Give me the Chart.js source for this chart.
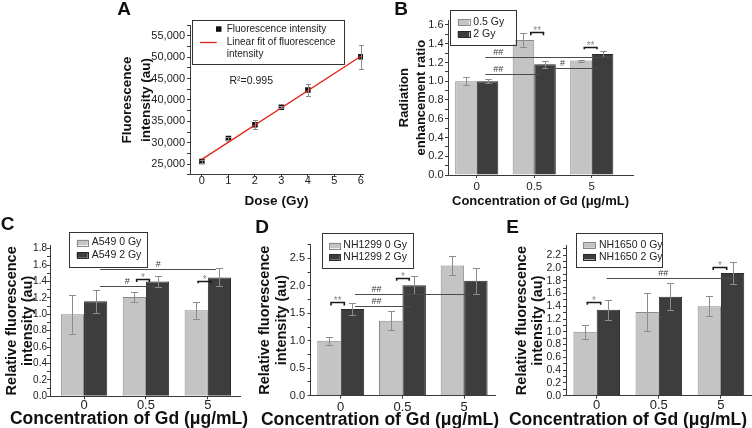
<!DOCTYPE html>
<html>
<head>
<meta charset="utf-8">
<title>Gd radiosensitization figure</title>
<script src="https://cdn.jsdelivr.net/npm/chart.js@4.4.1/dist/chart.umd.min.js"></script>
<style>
  html, body { margin:0; padding:0; background:#ffffff; }
  #fig { position:relative; width:752px; height:428px; overflow:hidden; background:#fff; }
  #fig canvas { position:absolute; left:0; top:0; }
</style>
</head>
<body>
<div id="fig">
  <canvas id="chartA" width="752" height="428"></canvas>
  <canvas id="chartB" width="752" height="428"></canvas>
  <canvas id="chartC" width="752" height="428"></canvas>
  <canvas id="chartD" width="752" height="428"></canvas>
  <canvas id="chartE" width="752" height="428"></canvas>
</div>
<script>
// ================= DATA =================
// Panel A
const doseGy = [0, 1, 2, 3, 4, 6];
const fluorescence = [25600, 31000, 34200, 38300, 42300, 50100];
const fluorescenceErr = [300, 400, 1000, 300, 1500, 2800];
const fitDose = [0, 6];
const fitFluorescence = [26100, 50200];
const seriesA = ['Fluorescence intensity', 'Linear fit of fluorescence intensity'];
const rSquaredText = 'R\u00B2=0.995';

// Shared category labels (Gd concentration, µg/mL)
const gdConc = ['0', '0.5', '5'];

// Panel B
const seriesB = ['0.5 Gy', '2 Gy'];
const rer05Gy = [1.00, 1.44, 1.22];
const rer05GyErr = [0.04, 0.075, 0.01];
const rer2Gy = [1.00, 1.18, 1.29];
const rer2GyErr = [0.02, 0.04, 0.03];

// Panel C
const seriesC = ['A549 0 Gy', 'A549 2 Gy'];
const a549_0Gy = [1.00, 1.21, 1.05];
const a549_0GyErr = [0.24, 0.06, 0.105];
const a549_2Gy = [1.16, 1.40, 1.45];
const a549_2GyErr = [0.14, 0.063, 0.11];

// Panel D
const seriesD = ['NH1299 0 Gy', 'NH1299 2 Gy'];
const nh1299_0Gy = [1.00, 1.365, 2.37];
const nh1299_0GyErr = [0.076, 0.176, 0.176];
const nh1299_2Gy = [1.58, 2.01, 2.09];
const nh1299_2GyErr = [0.106, 0.167, 0.243];

// Panel E
const seriesE = ['NH1650 0 Gy', 'NH1650 2 Gy'];
const nh1650_0Gy = [1.00, 1.31, 1.40];
const nh1650_0GyErr = [0.11, 0.30, 0.155];
const nh1650_2Gy = [1.345, 1.55, 1.92];
const nh1650_2GyErr = [0.16, 0.215, 0.17];

// Significance annotations (x in category units, y in data units)
const sigBracketsB = [
  {x1: 0.94, x2: 1.16, y: 1.53, y0: 1.49, text: '**'},
  {x1: 1.87, x2: 2.09, y: 1.37, y0: 1.34, text: '**'}
];
const sigLinesB = [
  {x1: 0.15, x2: 2.35, y: 1.262, tx: 0.375, text: '##'},
  {x1: 0.15, x2: 1.11, y: 1.077, tx: 0.375, text: '##'},
  {x1: 1.24, x2: 2.11, y: 1.138, tx: 1.49, text: '#'}
];
const sigBracketsC = [
  {x1: 0.85, x2: 1.055, y: 1.427, y0: 1.394, text: '*'},
  {x1: 1.843, x2: 2.053, y: 1.406, y0: 1.378, text: '*'}
];
const sigLinesC = [
  {x1: 0.26, x2: 2.13, y: 1.55, tx: 1.2, text: '#'},
  {x1: 0.26, x2: 1.15, y: 1.345, tx: 0.70, text: '#'}
];
const sigBracketsD = [
  {x1: -0.157, x2: 0.058, y: 1.70, y0: 1.64, text: '**'},
  {x1: 0.906, x2: 1.11, y: 2.14, y0: 2.09, text: '*'}
];
const sigLinesD = [
  {x1: 0.23, x2: 2.12, y: 1.86, tx: 0.58, text: '##'},
  {x1: 0.23, x2: 1.15, y: 1.63, tx: 0.58, text: '##'}
];
const sigBracketsE = [
  {x1: -0.151, x2: 0.064, y: 1.47, y0: 1.423, text: '*'},
  {x1: 1.876, x2: 2.092, y: 2.008, y0: 1.966, text: '*'}
];
const sigLinesE = [
  {x1: 0.16, x2: 2.2, y: 1.835, tx: 1.07, text: '##'}
];

const xTitleGd = 'Concentration of Gd (\u03BCg/mL)';
const yTitleRel = ['Relative fluorescence', 'intensity (au)'];

// ================= STYLE =================
const FONT = "'Liberation Sans', Arial, Helvetica, sans-serif";
const W = 752, H = 428;
const LIGHT = '#c4c4c4', LIGHT_BORDER = '#8a8a8a';
const DARK = '#3d3d3d', DARK_BORDER = '#2a2a2a';
const AXIS = '#3a3a3a', TICK = '#222222', TITLE = '#111111';
const ERR = '#8c8c8c';
Chart.defaults.font.family = FONT;

function majorCb(major, fmt) {
  return function (v) {
    const r = v / major;
    if (Math.abs(r - Math.round(r)) > 1e-6) return '';
    return fmt(v);
  };
}

function drawErrorBars(chart, capHalf) {
  const ctx = chart.ctx, ys = chart.scales.y;
  chart.data.datasets.forEach((ds, di) => {
    if (!ds.errorValues) return;
    const meta = chart.getDatasetMeta(di);
    ctx.save();
    ctx.strokeStyle = ERR;
    ctx.lineWidth = 1;
    meta.data.forEach((el, i) => {
      const pt = ds.data[i];
      const e = ds.errorValues[i];
      if (!e) return;
      const x = Math.round(el.x) + 0.5;
      const y1 = Math.round(ys.getPixelForValue(pt.y + e)) + 0.5;
      const y2 = Math.round(ys.getPixelForValue(pt.y - e)) + 0.5;
      ctx.beginPath();
      ctx.moveTo(x, y1); ctx.lineTo(x, y2);
      ctx.moveTo(x - capHalf, y1); ctx.lineTo(x + capHalf, y1);
      ctx.moveTo(x - capHalf, y2); ctx.lineTo(x + capHalf, y2);
      ctx.stroke();
    });
    ctx.restore();
  });
}

function drawLetter(ctx, L) {
  ctx.save();
  ctx.font = 'bold 19px ' + FONT;
  ctx.fillStyle = TITLE;
  ctx.textAlign = 'center';
  ctx.textBaseline = 'middle';
  ctx.fillText(L.text, L.x, L.y);
  ctx.restore();
}

function drawLegendBox(ctx, L) {
  ctx.save();
  ctx.fillStyle = '#ffffff';
  ctx.fillRect(L.x, L.y, L.w, L.h);
  ctx.strokeStyle = '#333333';
  ctx.lineWidth = 1;
  ctx.strokeRect(Math.round(L.x) + 0.5, Math.round(L.y) + 0.5, Math.round(L.w), Math.round(L.h));
  ctx.restore();
}

function drawSig(chart, P) {
  const ctx = chart.ctx, xs = chart.scales.x, ys = chart.scales.y;
  ctx.save();
  ctx.textAlign = 'center';
  ctx.textBaseline = 'alphabetic';
  (P.sigLines || []).forEach(l => {
    const x1 = xs.getPixelForValue(l.x1), x2 = xs.getPixelForValue(l.x2);
    const y = Math.round(ys.getPixelForValue(l.y)) + 0.5;
    ctx.strokeStyle = '#4a4a4a';
    ctx.lineWidth = 1;
    ctx.beginPath(); ctx.moveTo(x1, y); ctx.lineTo(x2, y); ctx.stroke();
    ctx.fillStyle = '#3a3a3a';
    ctx.font = P.hashSize + 'px ' + FONT;
    ctx.fillText(l.text, xs.getPixelForValue(l.tx), y - 2.5);
  });
  (P.brackets || []).forEach(b => {
    const x1 = xs.getPixelForValue(b.x1), x2 = xs.getPixelForValue(b.x2);
    const yt = Math.round(ys.getPixelForValue(b.y)) + 0.5;
    const yb = ys.getPixelForValue(b.y0);
    ctx.strokeStyle = '#1a1a1a';
    ctx.lineWidth = 1.6;
    ctx.beginPath();
    ctx.moveTo(x1, yb); ctx.lineTo(x1, yt); ctx.lineTo(x2, yt); ctx.lineTo(x2, yb);
    ctx.stroke();
    ctx.fillStyle = '#8a8a8a';
    ctx.font = P.starSize + 'px ' + FONT;
    ctx.fillText(b.text, (x1 + x2) / 2, yt + 1);
  });
  ctx.restore();
}

function barDecorations(P) {
  return {
    id: 'deco' + P.letter.text,
    afterDatasetsDraw(chart) { drawErrorBars(chart, P.capHalf); },
    afterDraw(chart) {
      const ctx = chart.ctx;
      drawSig(chart, P);
      // legend
      const L = P.legend;
      drawLegendBox(ctx, L);
      ctx.save();
      ctx.font = L.size + 'px ' + FONT;
      ctx.textAlign = 'left';
      ctx.textBaseline = 'middle';
      chart.data.datasets.forEach((ds, i) => {
        const cy = L.rows[i];
        ctx.fillStyle = ds.backgroundColor;
        ctx.fillRect(L.swX, cy - L.swH / 2, L.swW, L.swH);
        ctx.strokeStyle = ds.borderColor;
        ctx.lineWidth = 1;
        ctx.strokeRect(Math.round(L.swX) + 0.5, Math.round(cy - L.swH / 2) + 0.5, Math.round(L.swW), Math.round(L.swH));
        ctx.fillStyle = TICK;
        ctx.fillText(ds.label, L.textX, cy);
      });
      ctx.restore();
      if (P.xTitleX !== undefined) {
        ctx.save();
        ctx.font = 'bold ' + P.xTitleSize + 'px ' + FONT;
        ctx.fillStyle = TITLE;
        ctx.textAlign = 'center';
        ctx.textBaseline = 'middle';
        ctx.fillText(P.xTitle, P.xTitleX, P.xTitleY);
        ctx.restore();
      }
      drawLetter(ctx, P.letter);
    }
  };
}

function barPanel(P) {
  const a = P.area;
  const yLH = P.yTitleSize * P.yTitleLH;
  const yScaleLeft = P.yTitleX - yLH / 2;
  const xLH = P.xTitleSize * 1.2;
  const customX = P.xTitleX !== undefined;
  const xH = customX ? 30 : (P.xTitleY + xLH / 2 - a.b);
  const datasets = P.series.map(s => ({
    label: s.name,
    data: s.values.map((v, i) => ({x: i, y: v})),
    errorValues: s.errors,
    backgroundColor: s.color,
    borderColor: s.border,
    borderWidth: 1,
    barPercentage: 1.0,
    categoryPercentage: P.groupFrac
  }));
  return new Chart(document.getElementById(P.canvas), {
    type: 'bar',
    data: {datasets},
    options: {
      responsive: false, animation: false, devicePixelRatio: 1,
      layout: {padding: {left: yScaleLeft, top: a.t, right: W - a.r, bottom: H - a.b - xH}},
      plugins: {legend: {display: false}, tooltip: {enabled: false}},
      scales: {
        x: {
          type: 'linear', min: P.xMin, max: P.xMax, offset: false,
          grid: {display: true, offset: false, drawOnChartArea: false, tickLength: 3, color: AXIS},
          border: {display: true, color: AXIS, width: 1},
          ticks: {
            stepSize: 1, includeBounds: false, autoSkip: false, maxRotation: 0,
            padding: P.xTickPad, color: TICK,
            font: {family: FONT, size: P.xTickSize, lineHeight: 1},
            callback: v => (Number.isInteger(v) && gdConc[v] !== undefined) ? gdConc[v] : ''
          },
          title: customX ? {display: false} : {
            display: true, text: P.xTitle, color: TITLE, padding: 0,
            font: {family: FONT, size: P.xTitleSize, weight: 'bold', lineHeight: 1.2}
          },
          afterFit: s => { s.height = xH; }
        },
        y: {
          type: 'linear', min: 0, max: P.yMax,
          grid: {display: true, drawOnChartArea: false, tickLength: 3, color: AXIS},
          border: {display: true, color: AXIS, width: 1},
          ticks: {
            stepSize: P.yStep, includeBounds: false, autoSkip: false,
            padding: P.yTickPad, color: TICK,
            font: {family: FONT, size: P.yTickSize},
            callback: majorCb(P.yMajor, v => v.toFixed(1))
          },
          title: {
            display: true, text: P.yTitle, color: TITLE, padding: 0,
            font: {family: FONT, size: P.yTitleSize, weight: 'bold', lineHeight: P.yTitleLH}
          },
          afterFit: s => { s.width = a.l - yScaleLeft; }
        }
      }
    },
    plugins: [barDecorations(P)]
  });
}

// ================= PANEL A =================
(function () {
  const a = {l: 190, t: 25, r: 363, b: 174.8};
  const yTitleSize = 13.5, yTitleLH = 1.4, yTitleX = 127.7;
  const yScaleLeft = yTitleX - yTitleSize * yTitleLH / 2;
  const xTitleSize = 13.5, xTitleY = 201;
  const xH = xTitleY + xTitleSize * 0.6 - a.b;
  const deco = {
    id: 'decoA',
    afterDatasetsDraw(chart) { drawErrorBars(chart, 2.5); },
    afterDraw(chart) {
      const ctx = chart.ctx;
      const L = {x: 191.5, y: 19.5, w: 151.5, h: 44};
      drawLegendBox(ctx, L);
      ctx.save();
      ctx.font = '10px ' + FONT;
      ctx.textAlign = 'left';
      ctx.textBaseline = 'middle';
      const ds0 = chart.data.datasets[0], ds1 = chart.data.datasets[1];
      // marker entry
      ctx.fillStyle = ds0.pointBackgroundColor;
      ctx.fillRect(216, 26.3, 5.5, 5.5);
      ctx.fillStyle = TICK;
      ctx.fillText(ds0.label, 226.7, 29.3);
      // line entry
      ctx.strokeStyle = ds1.borderColor;
      ctx.lineWidth = 1.3;
      ctx.beginPath(); ctx.moveTo(200, 42.5); ctx.lineTo(216.7, 42.5); ctx.stroke();
      // wrap label
      const words = ds1.label.split(' ');
      const maxW = 113;
      let line = '', rows = [];
      words.forEach(w => {
        const t = line ? line + ' ' + w : w;
        if (ctx.measureText(t).width > maxW && line) { rows.push(line); line = w; } else line = t;
      });
      rows.push(line);
      rows.forEach((r, i) => ctx.fillText(r, 226.7, 42.5 + i * 12.2));
      // R squared
      ctx.font = '10.5px ' + FONT;
      ctx.fillText(rSquaredText, 229.5, 81);
      ctx.restore();
      drawLetter(ctx, {text: 'A', x: 124, y: 10});
    }
  };
  new Chart(document.getElementById('chartA'), {
    type: 'scatter',
    data: {
      datasets: [
        {
          label: seriesA[0],
          data: doseGy.map((d, i) => ({x: d, y: fluorescence[i]})),
          errorValues: fluorescenceErr,
          pointStyle: 'rect', pointRadius: 3.9, pointBorderWidth: 0,
          pointBackgroundColor: '#111111', pointBorderColor: '#111111',
          showLine: false, order: 1
        },
        {
          label: seriesA[1],
          data: fitDose.map((d, i) => ({x: d, y: fitFluorescence[i]})),
          showLine: true, borderColor: '#e2231a', borderWidth: 1.3,
          pointRadius: 0, fill: false, order: 0
        }
      ]
    },
    options: {
      responsive: false, animation: false, devicePixelRatio: 1,
      layout: {padding: {left: yScaleLeft, top: a.t, right: W - a.r, bottom: H - a.b - xH}},
      plugins: {legend: {display: false}, tooltip: {enabled: false}},
      scales: {
        x: {
          type: 'linear', min: -0.45, max: 6.08,
          grid: {display: true, drawOnChartArea: false, tickLength: 2, color: AXIS},
          border: {display: true, color: AXIS, width: 1},
          ticks: {stepSize: 1, includeBounds: false, maxRotation: 0, padding: -1, color: TICK,
                  font: {family: FONT, size: 11, lineHeight: 1}},
          title: {display: true, text: 'Dose (Gy)', color: TITLE, padding: 0,
                  font: {family: FONT, size: xTitleSize, weight: 'bold', lineHeight: 1.2}},
          afterFit: s => { s.height = xH; }
        },
        y: {
          type: 'linear', min: 22500, max: 57500,
          grid: {display: true, drawOnChartArea: false, tickLength: 3, color: AXIS},
          border: {display: true, color: AXIS, width: 1},
          ticks: {stepSize: 2500, includeBounds: false, autoSkip: false, padding: 2, color: TICK,
                  font: {family: FONT, size: 11},
                  callback: majorCb(5000, v => Math.round(v).toLocaleString('en-US'))},
          title: {display: true, text: ['Fluorescence', 'intensity (au)'], color: TITLE, padding: 0,
                  font: {family: FONT, size: yTitleSize, weight: 'bold', lineHeight: yTitleLH}},
          afterFit: s => { s.width = a.l - yScaleLeft; }
        }
      }
    },
    plugins: [deco]
  });
})();

// ================= PANEL B =================
barPanel({
  canvas: 'chartB',
  area: {l: 448, t: 20.3, r: 633, b: 175},
  xMin: -0.5, xMax: 2.717, yMax: 1.65, yStep: 0.1, yMajor: 0.2,
  yTitle: ['Radiation', 'enhancement ratio'], yTitleSize: 13, yTitleLH: 1.28, yTitleX: 404.3,
  xTitle: xTitleGd, xTitleSize: 13, xTitleY: 201.7,
  xTickSize: 11.5, xTickPad: 3, yTickSize: 11, yTickPad: 1.5,
  groupFrac: 0.75, capHalf: 3.3, hashSize: 9, starSize: 10,
  series: [
    {name: seriesB[0], values: rer05Gy, errors: rer05GyErr, color: LIGHT, border: LIGHT_BORDER},
    {name: seriesB[1], values: rer2Gy, errors: rer2GyErr, color: DARK, border: DARK_BORDER}
  ],
  legend: {x: 449.5, y: 9.5, w: 66, h: 35, swX: 457.7, swW: 11.6, swH: 6, textX: 473.3, rows: [22.3, 34.3], size: 10.5},
  letter: {text: 'B', x: 401, y: 9.5},
  brackets: sigBracketsB, sigLines: sigLinesB
});

// ================= PANEL C =================
barPanel({
  canvas: 'chartC',
  area: {l: 50, t: 245.4, r: 240, b: 396.3},
  xMin: -0.55, xMax: 2.52, yMax: 1.84, yStep: 0.1, yMajor: 0.2,
  yTitle: yTitleRel, yTitleSize: 14.5, yTitleLH: 1.15, yTitleX: 11.7,
  xTitle: xTitleGd, xTitleSize: 17.5, xTitleX: 129, xTitleY: 419,
  xTickSize: 13, xTickPad: 0, yTickSize: 10, yTickPad: 0,
  groupFrac: 0.75, capHalf: 3.5, hashSize: 9, starSize: 10,
  series: [
    {name: seriesC[0], values: a549_0Gy, errors: a549_0GyErr, color: LIGHT, border: LIGHT_BORDER},
    {name: seriesC[1], values: a549_2Gy, errors: a549_2GyErr, color: DARK, border: DARK_BORDER}
  ],
  legend: {x: 69.3, y: 231.5, w: 78, h: 34.5, swX: 76.7, swW: 11, swH: 5.5, textX: 91.7, rows: [242.5, 255], size: 10.5},
  letter: {text: 'C', x: 7.5, y: 224.5},
  brackets: sigBracketsC, sigLines: sigLinesC
});

// ================= PANEL D =================
barPanel({
  canvas: 'chartD',
  area: {l: 310.5, t: 244.6, r: 495, b: 395.7},
  xMin: -0.49, xMax: 2.5, yMax: 2.75, yStep: 0.25, yMajor: 0.5,
  yTitle: yTitleRel, yTitleSize: 14.5, yTitleLH: 1.15, yTitleX: 265,
  xTitle: xTitleGd, xTitleSize: 17.5, xTitleX: 380, xTitleY: 420,
  xTickSize: 13, xTickPad: 2, yTickSize: 11, yTickPad: 2.5,
  groupFrac: 0.76, capHalf: 3.5, hashSize: 9, starSize: 10,
  series: [
    {name: seriesD[0], values: nh1299_0Gy, errors: nh1299_0GyErr, color: LIGHT, border: LIGHT_BORDER},
    {name: seriesD[1], values: nh1299_2Gy, errors: nh1299_2GyErr, color: DARK, border: DARK_BORDER}
  ],
  legend: {x: 322.3, y: 233.3, w: 91, h: 35, swX: 329.3, swW: 10.5, swH: 5.5, textX: 343.3, rows: [245.5, 257], size: 10.5},
  letter: {text: 'D', x: 262, y: 227.7},
  brackets: sigBracketsD, sigLines: sigLinesD
});

// ================= PANEL E =================
barPanel({
  canvas: 'chartE',
  area: {l: 566, t: 245.5, r: 752, b: 395.7},
  xMin: -0.494, xMax: 2.5, yMax: 2.35, yStep: 0.1, yMajor: 0.2,
  yTitle: yTitleRel, yTitleSize: 14.5, yTitleLH: 1.15, yTitleX: 521.7,
  xTitle: xTitleGd, xTitleSize: 17.5, xTitleX: 628, xTitleY: 420.5,
  xTickSize: 13, xTickPad: 0.5, yTickSize: 10.5, yTickPad: 2,
  groupFrac: 0.75, capHalf: 3.5, hashSize: 9, starSize: 10,
  series: [
    {name: seriesE[0], values: nh1650_0Gy, errors: nh1650_0GyErr, color: LIGHT, border: LIGHT_BORDER},
    {name: seriesE[1], values: nh1650_2Gy, errors: nh1650_2GyErr, color: DARK, border: DARK_BORDER}
  ],
  legend: {x: 576, y: 233.3, w: 85.7, h: 34, swX: 583.3, swW: 11.7, swH: 5.5, textX: 599, rows: [245, 256.7], size: 10.5},
  letter: {text: 'E', x: 512.5, y: 228},
  brackets: sigBracketsE, sigLines: sigLinesE
});
</script>
</body>
</html>
